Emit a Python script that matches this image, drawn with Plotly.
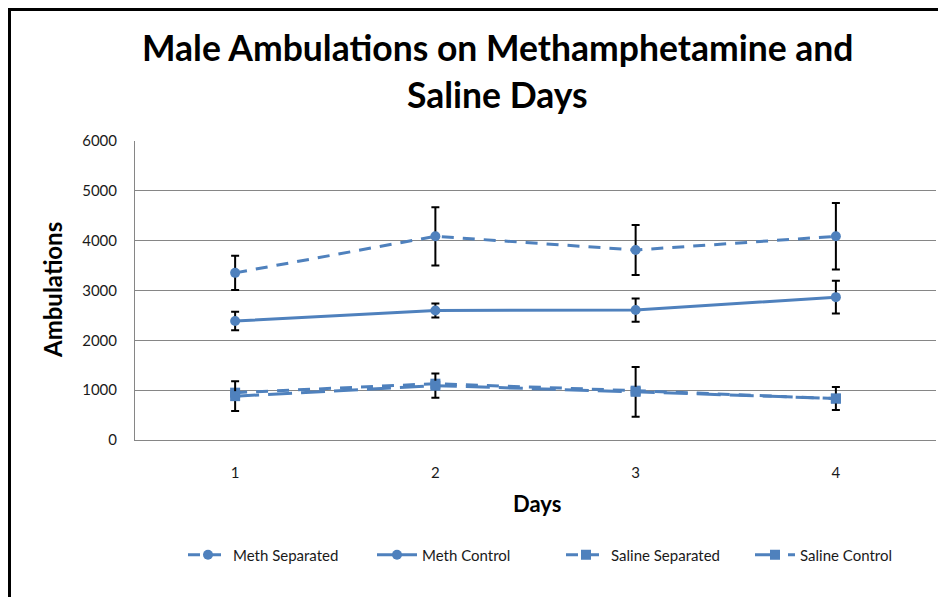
import plotly.graph_objects as go

days = [1, 2, 3, 4]
meth_sep = [3354, 4087, 3813, 4087]
meth_sep_err = [343, 583, 500, 667]
meth_ctrl = [2387, 2600, 2607, 2867]
meth_ctrl_err = [187, 140, 233, 330]
sal_sep = [950, 1130, 990, 830]
sal_ctrl = [880, 1090, 967, 833]
sal_ctrl_err = [297, 243, 500, 233]

BLUE = "#4F81BD"
FONT = "Lato"

fig = go.Figure()

def err(vals):
    return dict(type="data", array=vals, visible=True, color="black", thickness=2, width=4)

fig.add_trace(go.Scatter(x=days, y=meth_sep, name="Meth Separated", mode="lines+markers",
                         line=dict(color=BLUE, width=3, dash="12px,9px"),
                         marker=dict(symbol="circle", size=10, color=BLUE),
                         error_y=err(meth_sep_err)))
fig.add_trace(go.Scatter(x=days, y=meth_ctrl, name="Meth Control", mode="lines+markers",
                         line=dict(color=BLUE, width=3),
                         marker=dict(symbol="circle", size=10, color=BLUE),
                         error_y=err(meth_ctrl_err)))
fig.add_trace(go.Scatter(x=days, y=sal_sep, name="Saline Separated", mode="lines+markers",
                         line=dict(color=BLUE, width=3, dash="12px,9px"),
                         marker=dict(symbol="square", size=10, color=BLUE)))
fig.add_trace(go.Scatter(x=days, y=sal_ctrl, name="Saline Control", mode="lines+markers",
                         line=dict(color=BLUE, width=3, dash="24px,9px"),
                         marker=dict(symbol="square", size=10, color=BLUE),
                         error_y=err(sal_ctrl_err)))

OFF = 8  # page offset of the figure inside the browser window
W, H = 946, 597
# target plot area in screen pixels
SL, SR, ST, SB = 135, 936, 141, 440
L = SL - OFF
T = ST - OFF
R = W - (SR - OFF)
B = H - (SB - OFF)
PW, PH = SR - SL, SB - ST

def px(x):
    return (x - SL) / PW

def py(y):
    return (SB - y) / PH

fig.update_layout(
    width=W, height=H,
    margin=dict(l=L, r=R, t=T, b=B),
    paper_bgcolor="white", plot_bgcolor="white",
    font=dict(family=FONT, color="#1a1a1a", size=14),
    showlegend=True,
    legend=dict(orientation="h", x=px(183), xanchor="left", y=py(555), yanchor="middle",
                font=dict(size=15, family=FONT), itemwidth=40, traceorder="normal",
                entrywidth=134, entrywidthmode="pixels"),
    xaxis=dict(range=[0.5, 4.5], tickvals=days, ticktext=[str(d) for d in days],
               showgrid=False, showline=True, linecolor="#868686", linewidth=1,
               ticks="", ticklabelstandoff=19, zeroline=False,
               tickfont=dict(size=15, family=FONT)),
    yaxis=dict(range=[0, 6000], dtick=1000, showgrid=True, gridcolor="#868686", gridwidth=1,
               showline=True, linecolor="#868686", linewidth=1, zeroline=False,
               ticks="", ticklabelstandoff=14, tickfont=dict(size=15, family=FONT)),
    annotations=[
        dict(text="<b>Male Ambulations on Methamphetamine and</b>", x=px(497), y=py(47),
             xref="paper", yref="paper", showarrow=False, xanchor="center", yanchor="middle",
             font=dict(size=35.5, family=FONT, color="black")),
        dict(text="<b>Saline Days</b>", x=px(497), y=py(94),
             xref="paper", yref="paper", showarrow=False, xanchor="center", yanchor="middle",
             font=dict(size=35.5, family=FONT, color="black")),
        dict(text="<b>Ambulations</b>", x=px(52), y=py(290), textangle=-90,
             xref="paper", yref="paper", showarrow=False, xanchor="center", yanchor="middle",
             font=dict(size=24, family=FONT, color="black")),
        dict(text="<b>Days</b>", x=px(537), y=py(503),
             xref="paper", yref="paper", showarrow=False, xanchor="center", yanchor="middle",
             font=dict(size=22, family=FONT, color="black")),
    ],
    shapes=[
        dict(type="line", xref="paper", yref="paper", x0=px(9.5), x1=px(9.5), y0=py(8), y1=py(600),
             line=dict(color="black", width=3)),
        dict(type="line", xref="paper", yref="paper", x0=px(8), x1=px(950), y0=py(9.5), y1=py(9.5),
             line=dict(color="black", width=3)),
    ],
)

fig.write_html("out.html")
